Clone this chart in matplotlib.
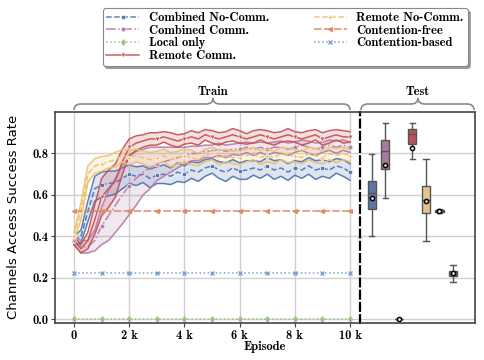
import numpy as np
import matplotlib
matplotlib.use('Agg')
import matplotlib.pyplot as plt
from matplotlib.path import Path
from matplotlib.patches import PathPatch

plt.rcParams['axes.unicode_minus'] = False
SERIF = 'cmb10'

# ---- training curves (sampled every 250 episodes) ----
episodes = np.arange(0, 10001, 250)

comb_nocomm_mean = [0.38, 0.40, 0.52, 0.63, 0.65, 0.655, 0.66, 0.68, 0.70, 0.69, 0.70,
                    0.68, 0.695, 0.70, 0.69, 0.71, 0.70, 0.72, 0.71, 0.73, 0.74,
                    0.72, 0.71, 0.73, 0.715, 0.72, 0.73, 0.72, 0.74, 0.72, 0.73,
                    0.71, 0.73, 0.72, 0.74, 0.72, 0.73, 0.72, 0.74, 0.73, 0.71]
comb_nocomm_sd = [0.02, 0.03, 0.05, 0.06, 0.06, 0.06, 0.055, 0.05, 0.045, 0.045, 0.04,
                  0.045, 0.04, 0.045, 0.04, 0.045, 0.04, 0.04, 0.045, 0.04, 0.035,
                  0.04, 0.045, 0.04, 0.04, 0.045, 0.035, 0.04, 0.04, 0.045, 0.04,
                  0.04, 0.035, 0.04, 0.04, 0.045, 0.04, 0.04, 0.035, 0.04, 0.04]

comb_comm_mean = [0.38, 0.35, 0.35, 0.38, 0.45, 0.50, 0.55, 0.60, 0.645, 0.68, 0.71,
                  0.73, 0.75, 0.76, 0.77, 0.78, 0.79, 0.80, 0.80, 0.81, 0.81,
                  0.82, 0.81, 0.82, 0.82, 0.83, 0.82, 0.83, 0.82, 0.83, 0.83,
                  0.82, 0.83, 0.84, 0.83, 0.82, 0.83, 0.84, 0.83, 0.84, 0.83]
comb_comm_sd = [0.02, 0.03, 0.03, 0.05, 0.09, 0.12, 0.13, 0.14, 0.14, 0.13, 0.11,
                0.10, 0.08, 0.07, 0.06, 0.05, 0.04, 0.035, 0.035, 0.03, 0.03,
                0.03, 0.03, 0.025, 0.03, 0.025, 0.03, 0.025, 0.03, 0.025, 0.03,
                0.03, 0.025, 0.025, 0.03, 0.03, 0.025, 0.025, 0.03, 0.025, 0.025]

remote_comm_mean = [0.38, 0.34, 0.38, 0.48, 0.59, 0.63, 0.67, 0.76, 0.83, 0.85, 0.86,
                    0.87, 0.87, 0.88, 0.87, 0.86, 0.87, 0.88, 0.87, 0.89, 0.88,
                    0.87, 0.88, 0.89, 0.88, 0.87, 0.88, 0.89, 0.88, 0.87, 0.88,
                    0.89, 0.88, 0.87, 0.88, 0.89, 0.87, 0.88, 0.89, 0.88, 0.88]
remote_comm_sd = [0.02, 0.02, 0.04, 0.07, 0.09, 0.09, 0.08, 0.06, 0.04, 0.035, 0.03,
                  0.03, 0.03, 0.025, 0.03, 0.03, 0.025, 0.03, 0.03, 0.025, 0.03,
                  0.03, 0.025, 0.03, 0.03, 0.025, 0.03, 0.025, 0.03, 0.03, 0.025,
                  0.03, 0.025, 0.03, 0.03, 0.025, 0.03, 0.03, 0.025, 0.03, 0.025]

remote_nocomm_mean = [0.40, 0.52, 0.70, 0.74, 0.75, 0.76, 0.77, 0.79, 0.78, 0.79, 0.78,
                      0.77, 0.78, 0.79, 0.77, 0.78, 0.79, 0.78, 0.77, 0.79, 0.80,
                      0.78, 0.79, 0.78, 0.78, 0.79, 0.80, 0.78, 0.79, 0.78, 0.80,
                      0.79, 0.79, 0.78, 0.80, 0.79, 0.78, 0.80, 0.79, 0.80, 0.79]
remote_nocomm_sd = [0.02, 0.04, 0.04, 0.035, 0.035, 0.03, 0.035, 0.03, 0.035, 0.03, 0.03,
                    0.035, 0.03, 0.03, 0.035, 0.03, 0.03, 0.035, 0.03, 0.03, 0.03,
                    0.035, 0.03, 0.03, 0.035, 0.03, 0.03, 0.035, 0.03, 0.03, 0.03,
                    0.035, 0.03, 0.03, 0.03, 0.035, 0.03, 0.03, 0.035, 0.03, 0.03]

contention_free_level = 0.522
contention_based_level = 0.222
local_only_level = 0.0

# ---- test results (box statistics) ----
box_whislo = [0.400, 0.585, 0.0, 0.771, 0.379, 0.512, 0.181]
box_q1 = [0.533, 0.723, 0.0, 0.848, 0.511, 0.516, 0.208]
box_med = [0.607, 0.814, 0.0, 0.896, 0.575, 0.521, 0.222]
box_q3 = [0.665, 0.863, 0.0, 0.920, 0.642, 0.527, 0.234]
box_whishi = [0.797, 0.945, 0.0, 0.948, 0.774, 0.532, 0.260]
box_mean = [0.586, 0.744, 0.0, 0.827, 0.569, 0.521, 0.222]
box_colors = ['#5a76a3', '#a67b9f', '#7fae62', '#b5545c', '#e4c58a', '#d9875f', '#5f6f86']

# ---- figure ----
W, H = 484, 360
fig = plt.figure(figsize=(W / 100, H / 100), dpi=100)

def fx(px):
    return px / W

def fy(py):
    return 1 - py / H

ax1 = fig.add_axes([fx(55), fy(323), fx(360) - fx(55), fy(112) - fy(323)])
ax2 = fig.add_axes([fx(360), fy(323), fx(475) - fx(360), fy(112) - fy(323)])

ylim = (-0.018, 1.0)
for ax in (ax1, ax2):
    ax.set_ylim(*ylim)
    ax.set_yticks([0.0, 0.2, 0.4, 0.6, 0.8])
    ax.grid(axis='y', color='#d0d0d0', lw=1.0)
    ax.set_axisbelow(True)
    for s in ax.spines.values():
        s.set_color('#444444')
        s.set_linewidth(1.2)

ax1.set_xlim(-690, 10360)
ax1.set_xticks([0, 2000, 4000, 6000, 8000, 10000])
ax1.set_xticklabels(['0', '2 k', '4 k', '6 k', '8 k', '10 k'], family=SERIF, fontsize=9)
ax1.set_yticklabels(['0.0', '0.2', '0.4', '0.6', '0.8'], family=SERIF, fontsize=9)
ax1.grid(axis='x', color='#d0d0d0', lw=1.0)
ax1.spines['right'].set_visible(False)
ax1.tick_params(length=3, color='#444444', pad=2)

learn = [
    ('Combined No-Comm.', comb_nocomm_mean, comb_nocomm_sd, '#4c72b0', '--', 's'),
    ('Combined Comm.', comb_comm_mean, comb_comm_sd, '#b27aa6', '-.', 'o'),
    ('Remote Comm.', remote_comm_mean, remote_comm_sd, '#c44e52', '-', 'v'),
    ('Remote No-Comm.', remote_nocomm_mean, remote_nocomm_sd, '#ecc06a', '--', 'P'),
]
handles = {}
for name, m, sd, col, ls, mk in learn:
    m = np.array(m); sd = np.array(sd)
    ax1.fill_between(episodes, m - sd, m + sd, color=col, alpha=0.18, lw=0)
    ax1.plot(episodes, m - sd, color=col, lw=1.1, alpha=0.9)
    ax1.plot(episodes, m + sd, color=col, lw=1.1, alpha=0.9)
    h, = ax1.plot(episodes, m, color=col, ls=ls, lw=1.1, marker=mk, markersize=3.5,
                  markeredgecolor='white', markeredgewidth=0.5, markevery=4, label=name,
                  alpha=0.9)
    handles[name] = h

flat = [
    ('Local only', local_only_level, '#9cc47e', ':', 'd'),
    ('Contention-free', contention_free_level, '#e08a68', (0, (5, 1.5)), '<'),
    ('Contention-based', contention_based_level, '#7b9fd0', ':', 'x'),
]
for name, lvl, col, ls, mk in flat:
    vals = np.full(len(episodes), lvl)
    h, = ax1.plot(episodes, vals, color=col, ls=ls, lw=1.1, marker=mk, markersize=2.8,
                  markevery=4, label=name)
    handles[name] = h

# test boxes
stats = []
for i in range(7):
    stats.append(dict(whislo=box_whislo[i], q1=box_q1[i], med=box_med[i], q3=box_q3[i],
                      whishi=box_whishi[i], mean=box_mean[i], fliers=[]))
bp = ax2.bxp(stats, positions=range(7), widths=0.6, patch_artist=True, showmeans=True,
             showfliers=False, capwidths=0.4,
             boxprops=dict(edgecolor='#555555', lw=1),
             whiskerprops=dict(color='#555555', lw=1),
             capprops=dict(color='#555555', lw=1),
             medianprops=dict(color='#555555', lw=1),
             meanprops=dict(marker='o', markerfacecolor='white', markeredgecolor='black',
                            markersize=3, markeredgewidth=1.1))
for patch, col in zip(bp['boxes'], box_colors):
    patch.set_facecolor(col)
ax2.set_xlim(-0.86, 7.62)
ax2.set_xticks([])
ax2.tick_params(left=False, labelleft=False)
ax2.spines['left'].set_color('black')
ax2.spines['left'].set_linewidth(1.6)
ax2.spines['left'].set_linestyle((0, (3.5, 2)))

# braces
def brace(x0, x1, xm, ybase, yline, ytip, r=7):
    pts = [(x0, ybase), (x0, yline), (x0 + r, yline),
           (xm - r, yline), (xm, yline), (xm, ytip),
           (xm, yline), (xm + r, yline),
           (x1 - r, yline), (x1, yline), (x1, ybase)]
    codes = [Path.MOVETO, Path.CURVE3, Path.CURVE3,
             Path.LINETO, Path.CURVE3, Path.CURVE3,
             Path.CURVE3, Path.CURVE3,
             Path.LINETO, Path.CURVE3, Path.CURVE3]
    verts = [(fx(a), fy(b)) for a, b in pts]
    fig.add_artist(PathPatch(Path(verts, codes), transform=fig.transFigure,
                             fill=False, edgecolor='#8a8a8a', lw=1.2))

brace(74, 350, 213, 110, 104, 98)
brace(361, 474, 418, 110, 104, 98)
fig.text(fx(213), fy(92), 'Train', ha='center', va='center', family=SERIF, fontsize=9)
fig.text(fx(418), fy(92), 'Test', ha='center', va='center', family=SERIF, fontsize=9)

fig.text(fx(265), fy(347), 'Episode', ha='center', va='center', family=SERIF, fontsize=9)
fig.text(fx(14), fy(217), 'Channels Access Success Rate', rotation=90, ha='center',
         va='center', family=['Liberation Sans Narrow', 'DejaVu Sans'], fontsize=9.5)

order = ['Combined No-Comm.', 'Combined Comm.', 'Local only', 'Remote Comm.',
         'Remote No-Comm.', 'Contention-free', 'Contention-based']
leg = fig.legend([handles[k] for k in order], order, loc='upper center',
                 bbox_to_anchor=(fx(285), fy(2)), ncol=2, shadow=True, fancybox=True,
                 prop=dict(family=SERIF, size=9), handlelength=2.6, handletextpad=0.8,
                 columnspacing=3.6, labelspacing=0.05, borderpad=0.3, framealpha=1,
                 edgecolor='#888888')
leg.get_frame().set_linewidth(0.8)

fig.savefig('out.png', dpi=100)
